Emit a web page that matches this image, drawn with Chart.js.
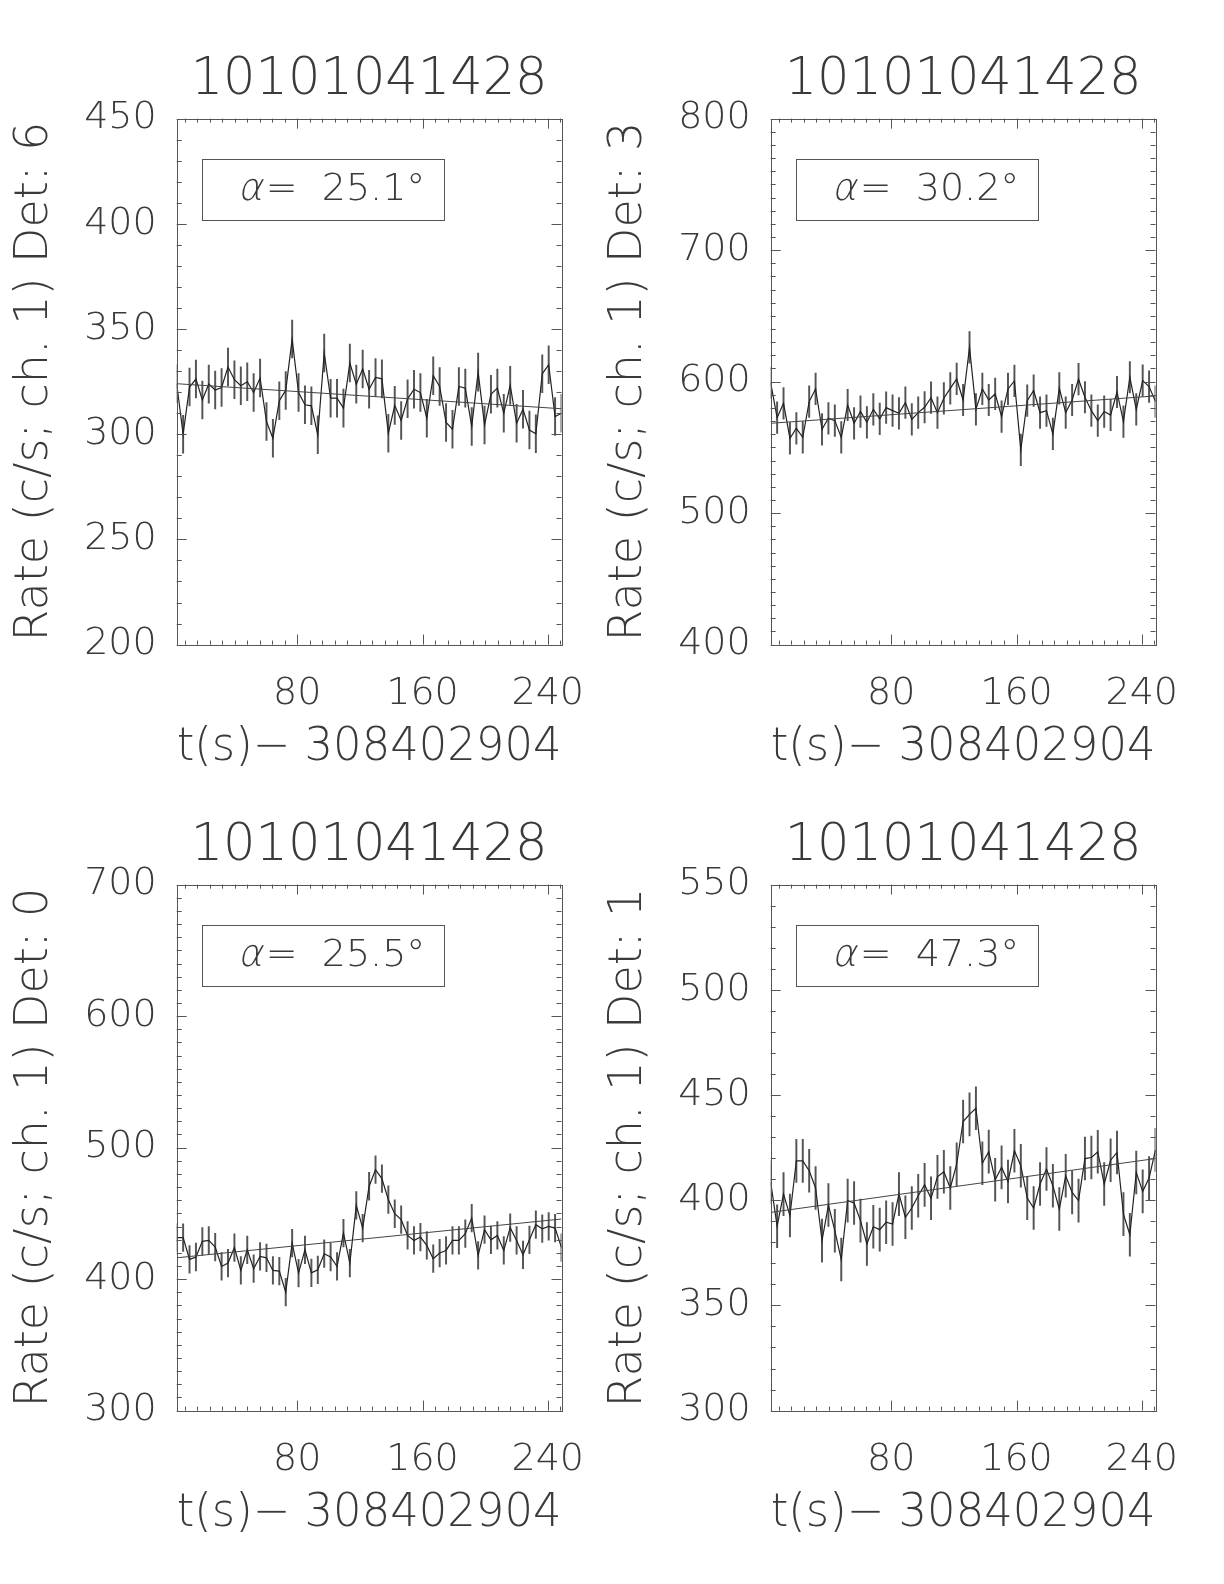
<!DOCTYPE html>
<html>
<head>
<meta charset="utf-8">
<script src="https://cdn.jsdelivr.net/npm/chart.js@4.4.1/dist/chart.umd.min.js"></script>
<style>
  html, body { margin: 0; padding: 0; background: #fff; overflow: hidden; }
  .panel { position: absolute; width: 594px; height: 766px; }
</style>
</head>
<body>
<div class="panel" style="left:0;top:0"><canvas id="c0" width="594" height="766"></canvas></div>
<div class="panel" style="left:594px;top:0"><canvas id="c1" width="594" height="766"></canvas></div>
<div class="panel" style="left:0;top:766px"><canvas id="c2" width="594" height="766"></canvas></div>
<div class="panel" style="left:594px;top:766px"><canvas id="c3" width="594" height="766"></canvas></div>
<script>
const FONT = '"DejaVu Sans", sans-serif';
const TXT = '#3a3a3a';

const runTitle = '10101041428';
const xLabel = 't(s)\u2212 308402904';
const xTickVals = [80, 160, 240];
const xMajor = 80;
const xMinor = 8;

// bin centres, t(s) - 308402904
const tBins = [3.00, 7.10, 11.19, 15.29, 19.38, 23.48, 27.58, 31.67, 35.77, 39.86,
  43.96, 48.06, 52.15, 56.25, 60.34, 64.44, 68.54, 72.63, 76.73, 80.82,
  84.92, 89.02, 93.11, 97.21, 101.30, 105.40, 109.50, 113.59, 117.69, 121.78,
  125.88, 129.98, 134.07, 138.17, 142.26, 146.36, 150.46, 154.55, 158.65, 162.74,
  166.84, 170.94, 175.03, 179.13, 183.22, 187.32, 191.42, 195.51, 199.61, 203.70,
  207.80, 211.90, 215.99, 220.09, 224.18, 228.28, 232.38, 236.47, 240.57, 244.66,
  248.76];

const rateDet6 = [324.0, 300.0, 322.4, 326.2, 316.3, 323.8, 321.0, 322.2, 331.9, 325.9,
  323.0, 324.9, 319.8, 326.7, 306.0, 298.1, 315.9, 320.8, 345.2, 319.8,
  314.0, 313.5, 299.7, 338.6, 317.1, 317.1, 312.4, 333.8, 323.8, 331.0,
  321.4, 327.0, 326.3, 300.5, 313.7, 306.5, 316.8, 321.4, 319.8, 307.6,
  327.8, 322.7, 305.6, 302.4, 322.7, 321.9, 303.7, 329.5, 304.4, 319.0,
  321.9, 310.0, 323.2, 305.2, 311.9, 302.0, 300.2, 328.7, 333.0, 308.4,
  310.0];

const rateDet3 = [599.0, 572.6, 583.5, 556.9, 564.5, 557.6, 584.8, 594.4, 563.7, 572.1,
  570.3, 557.6, 582.2, 568.3, 577.2, 569.0, 578.9, 571.6, 580.2, 577.9,
  575.9, 584.0, 571.3, 576.4, 580.5, 587.8, 576.4, 587.3, 594.9, 602.0,
  586.0, 626.1, 578.9, 594.4, 586.0, 590.6, 573.4, 594.4, 600.5, 548.0,
  585.5, 593.2, 576.4, 577.9, 560.2, 594.9, 576.4, 586.0, 601.8, 588.1,
  577.9, 570.3, 577.2, 574.6, 592.1, 569.6, 603.3, 578.9, 600.8, 596.2,
  584.8];

const rateDet0 = [431.5, 431.5, 415.0, 416.8, 428.7, 429.4, 424.4, 409.6, 412.2, 423.9,
  406.6, 422.3, 407.9, 417.3, 416.2, 406.6, 406.1, 390.1, 427.4, 404.6,
  422.3, 404.8, 407.1, 419.3, 416.8, 409.6, 435.0, 412.2, 456.1, 438.8,
  470.6, 483.2, 476.4, 460.4, 449.7, 445.2, 433.2, 429.4, 432.0, 425.6,
  415.5, 419.8, 421.8, 429.4, 429.4, 434.5, 446.4, 418.0, 437.6, 429.9,
  433.2, 421.8, 439.1, 429.4, 418.5, 429.9, 441.4, 438.3, 440.1, 438.8,
  423.9];

const rateDet1 = [408.5, 387.6, 402.9, 392.7, 418.7, 418.7, 414.0, 405.8, 380.8, 397.7,
  385.5, 371.8, 399.8, 398.7, 390.3, 379.2, 387.4, 386.0, 389.5, 388.7,
  402.9, 391.9, 396.3, 402.1, 407.3, 400.9, 411.1, 413.5, 405.8, 417.1,
  437.4, 440.8, 443.7, 417.6, 423.1, 409.7, 415.6, 408.9, 423.5, 416.4,
  401.0, 396.3, 407.7, 414.8, 406.9, 395.8, 411.6, 403.7, 399.8, 419.8,
  420.3, 423.0, 407.7, 419.0, 422.7, 393.4, 383.6, 413.2, 404.2, 410.5,
  423.9];

const rateSeries = [rateDet6, rateDet3, rateDet0, rateDet1];
const detectors = [6, 3, 0, 1];
const alphaDeg = ['25.1', '30.2', '25.5', '47.3'];
const yRanges = [[200, 450], [400, 800], [300, 700], [300, 550]];
const yMajor = [50, 100, 100, 50];
const yMinor = [10, 10, 10, 10];
const errHalf = [9.0, 12.0, 10.5, 10.2];
// background fit at first and last bin
const bkgEnds = [[324.0, 312.1], [568.3, 589.1], [416.2, 445.7], [394.2, 419.8]];

// IDL style box: frame, inward ticks all round, title and alpha label
const idlFrame = {
  id: 'idlFrame',
  afterDatasetsDraw(chart, args, o) {
    const { ctx, chartArea: a, scales: { x, y } } = chart;
    ctx.save();
    ctx.strokeStyle = '#555';
    ctx.lineWidth = 1;
    ctx.strokeRect(Math.round(a.left) + 0.5, Math.round(a.top) + 0.5,
      Math.round(a.right - a.left), Math.round(a.bottom - a.top));

    ctx.beginPath();
    for (let k = Math.ceil(x.min / o.xMinor); k * o.xMinor <= x.max; k++) {
      const v = k * o.xMinor;
      const px = Math.round(x.getPixelForValue(v)) + 0.5;
      const len = v % o.xMajor === 0 ? 10 : 4;
      ctx.moveTo(px, a.bottom); ctx.lineTo(px, a.bottom - len);
      ctx.moveTo(px, a.top); ctx.lineTo(px, a.top + len);
    }
    for (let k = Math.ceil(y.min / o.yMinor); k * o.yMinor <= y.max; k++) {
      const v = k * o.yMinor;
      const py = Math.round(y.getPixelForValue(v)) + 0.5;
      const len = v % o.yMajor === 0 ? 10 : 5;
      ctx.moveTo(a.left, py); ctx.lineTo(a.left + len, py);
      ctx.moveTo(a.right, py); ctx.lineTo(a.right - len, py);
    }
    ctx.stroke();

    ctx.fillStyle = TXT;
    ctx.textBaseline = 'middle';
    ctx.textAlign = 'center';
    ctx.font = `200 51px ${FONT}`;
    ctx.fillText(o.title, (a.left + a.right) / 2, a.top - 38);

    ctx.strokeRect(Math.round(a.left + 25) + 0.5, Math.round(a.top + 40) + 0.5, 242, 61);
    ctx.textAlign = 'left';
    const ly = a.top + 72;
    let lx = a.left + 63;
    ctx.font = `200 38px ${FONT}`;
    // thin alpha, slanted by hand
    ctx.save();
    ctx.translate(lx, ly);
    ctx.transform(1, 0, -0.22, 1, 0, 0);
    ctx.fillText('\u03b1', 0, 0);
    ctx.restore();
    lx += ctx.measureText('\u03b1').width + 1;
    ctx.fillText('=  ' + o.alpha + '\u00b0', lx, ly);
    ctx.restore();
  }
};

function makeChart(id, k) {
  const rates = rateSeries[k];
  const last = tBins.length - 1;
  const tickFont = { family: FONT, size: 38, weight: 200, lineHeight: 1 };
  new Chart(document.getElementById(id), {
    type: 'line',
    data: {
      datasets: [
        {
          type: 'line',
          data: tBins.map((t, i) => ({ x: t, y: rates[i] })),
          borderColor: '#222', borderWidth: 1.2, pointRadius: 0, tension: 0, order: 1
        },
        {
          type: 'line',
          data: [{ x: tBins[0], y: bkgEnds[k][0] }, { x: tBins[last], y: bkgEnds[k][1] }],
          borderColor: '#444', borderWidth: 1, pointRadius: 0, order: 0
        },
        {
          type: 'bar',
          data: tBins.map((t, i) => ({ x: t, y: [rates[i] - errHalf[k], rates[i] + errHalf[k]] })),
          backgroundColor: '#555', barThickness: 1.3, grouped: false, order: 2
        }
      ]
    },
    options: {
      responsive: false,
      animation: false,
      layout: { padding: { top: 118.6, left: 0, right: 32.5, bottom: 0 } },
      plugins: {
        legend: { display: false },
        tooltip: { enabled: false },
        idlFrame: { title: runTitle, alpha: alphaDeg[k], xMajor, xMinor, yMajor: yMajor[k], yMinor: yMinor[k] }
      },
      scales: {
        x: {
          type: 'linear', min: tBins[0], max: tBins[last], offset: false,
          grid: { display: false, drawTicks: false }, border: { display: false },
          afterBuildTicks: s => { s.ticks = xTickVals.map(v => ({ value: v })); },
          ticks: { autoSkip: false, maxRotation: 0, padding: 31, color: TXT, font: tickFont },
          title: { display: true, text: xLabel, color: TXT,
                   font: { family: FONT, size: 46, weight: 200, lineHeight: 1 },
                   padding: { top: 0, bottom: -5 } },
          afterFit: s => { s.height = 121.4; s.paddingLeft = 0; s.paddingRight = 0; }
        },
        y: {
          type: 'linear', min: yRanges[k][0], max: yRanges[k][1],
          grid: { display: false, drawTicks: false }, border: { display: false },
          ticks: { stepSize: yMajor[k], autoSkip: false, padding: 20, color: TXT, font: tickFont },
          title: { display: true, text: `Rate (c/s; ch. 1) Det: ${detectors[k]}`, color: TXT,
                   font: { family: FONT, size: 46, weight: 200, lineHeight: 1 },
                   padding: { top: 12, bottom: 0 } },
          afterFit: s => { s.width = 176.7; }
        }
      }
    },
    plugins: [idlFrame]
  });
}

['c0', 'c1', 'c2', 'c3'].forEach((id, k) => makeChart(id, k));
</script>
</body>
</html>
